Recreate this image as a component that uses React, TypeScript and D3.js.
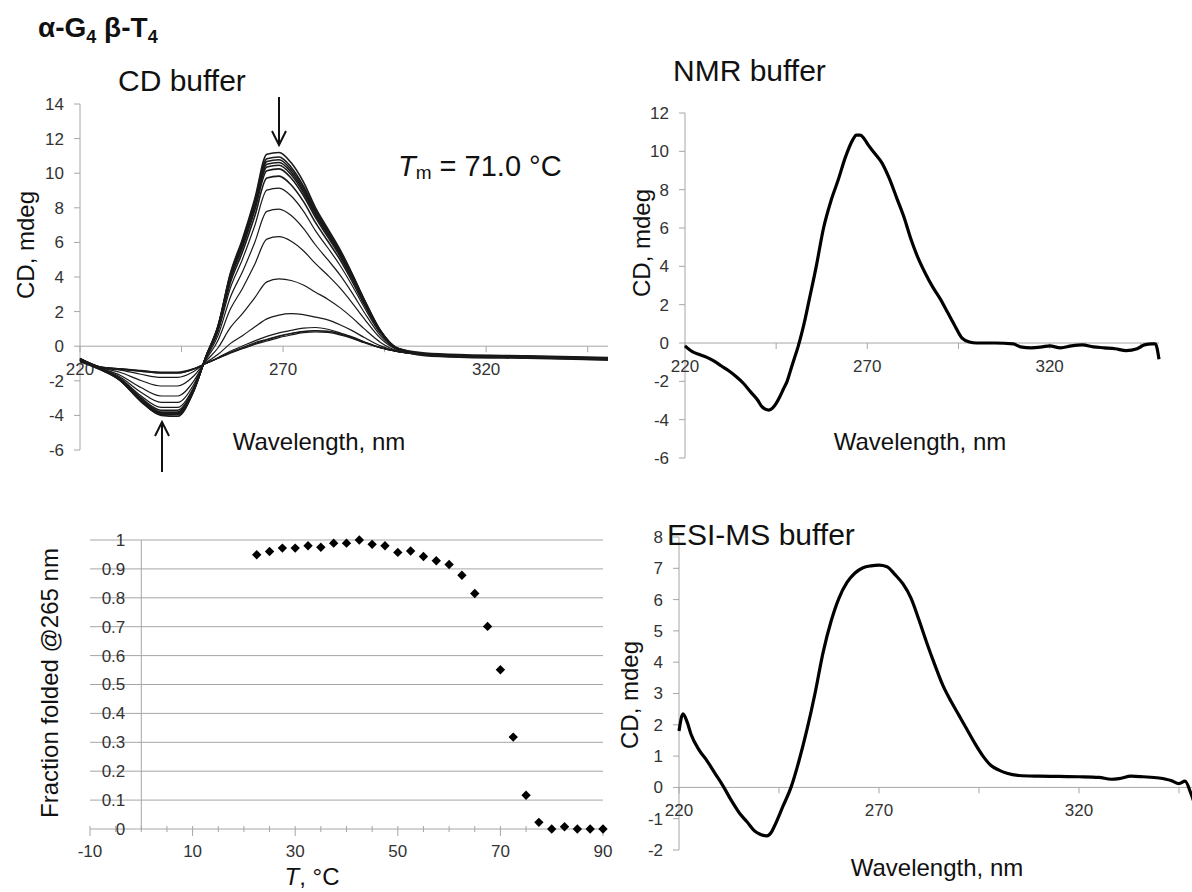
import React, { useEffect } from "react";
import * as d3 from "d3";

const FONT = "'Liberation Sans', Arial, sans-serif";
const AXIS = "#a6a6a6";
const INK = "#333";

// ---- CD buffer thermal melt: wavelength grid and one CD trace per temperature ----
const cdWavelengths = [220, 225, 230, 235, 240, 244, 248, 251, 254, 257, 260, 263, 266, 269, 272, 275, 278, 281, 284, 287, 290, 294, 298, 305, 315, 330, 350];
const cdCurves = [
  [-0.8, -1.3, -2.0, -3.2, -4.0, -4.05, -2.6, -0.6, 1.2, 4.2, 6.2, 8.5, 11.1, 11.2, 10.6, 9.5, 8.0, 6.8, 5.6, 4.2, 2.7, 0.9, -0.1, -0.45, -0.55, -0.6, -0.7],
  [-0.8, -1.3, -2.0, -3.17, -3.96, -3.96, -2.58, -0.61, 1.17, 4.13, 6.1, 8.37, 10.84, 10.94, 10.35, 9.27, 7.89, 6.71, 5.53, 4.14, 2.66, 0.89, -0.1, -0.5, -0.6, -0.62, -0.75],
  [-0.85, -1.35, -1.98, -3.15, -3.93, -3.93, -2.56, -0.61, 1.14, 4.06, 6.01, 8.25, 10.68, 10.78, 10.2, 9.14, 7.78, 6.62, 5.45, 4.09, 2.63, 0.87, -0.11, -0.4, -0.5, -0.55, -0.65],
  [-0.75, -1.25, -1.97, -3.12, -3.89, -3.89, -2.54, -0.62, 1.11, 3.99, 5.91, 8.12, 10.52, 10.62, 10.06, 9.01, 7.68, 6.53, 5.38, 4.03, 2.59, 0.86, -0.11, -0.5, -0.6, -0.65, -0.8],
  [-0.8, -1.3, -1.96, -3.09, -3.85, -3.85, -2.52, -0.62, 1.09, 3.92, 5.82, 8.0, 10.36, 10.46, 9.91, 8.88, 7.57, 6.44, 5.3, 3.98, 2.55, 0.84, -0.11, -0.45, -0.6, -0.6, -0.7],
  [-0.9, -1.35, -1.94, -3.06, -3.8, -3.8, -2.5, -0.63, 1.05, 3.83, 5.69, 7.83, 10.14, 10.25, 9.71, 8.71, 7.43, 6.32, 5.2, 3.9, 2.5, 0.82, -0.12, -0.55, -0.65, -0.7, -0.8],
  [-0.79, -1.29, -1.92, -2.98, -3.7, -3.7, -2.44, -0.65, 0.97, 3.65, 5.44, 7.49, 9.72, 9.83, 9.32, 8.37, 7.14, 6.08, 5.01, 3.75, 2.4, 0.78, -0.12, -0.45, -0.55, -0.6, -0.7],
  [-0.78, -1.28, -1.87, -2.87, -3.54, -3.54, -2.36, -0.67, 0.85, 3.35, 5.03, 6.95, 9.02, 9.14, 8.68, 7.81, 6.67, 5.69, 4.68, 3.51, 2.24, 0.72, -0.14, -0.5, -0.6, -0.65, -0.75],
  [-0.77, -1.27, -1.79, -2.66, -3.25, -3.25, -2.21, -0.72, 0.63, 2.82, 4.3, 5.98, 7.79, 7.92, 7.55, 6.81, 5.85, 5.0, 4.12, 3.08, 1.95, 0.6, -0.16, -0.45, -0.55, -0.6, -0.7],
  [-0.76, -1.26, -1.69, -2.39, -2.88, -2.88, -2.02, -0.78, 0.35, 2.13, 3.34, 4.72, 6.19, 6.33, 6.07, 5.52, 4.77, 4.1, 3.37, 2.51, 1.58, 0.45, -0.19, -0.5, -0.6, -0.65, -0.75],
  [-0.73, -1.23, -1.52, -1.98, -2.3, -2.3, -1.72, -0.87, -0.09, 1.07, 1.88, 2.79, 3.72, 3.89, 3.8, 3.54, 3.12, 2.72, 2.23, 1.65, 1.0, 0.22, -0.24, -0.45, -0.55, -0.6, -0.7],
  [-0.71, -1.21, -1.38, -1.62, -1.8, -1.8, -1.46, -0.95, -0.47, 0.15, 0.61, 1.11, 1.58, 1.8, 1.88, 1.83, 1.68, 1.52, 1.24, 0.9, 0.5, 0.02, -0.28, -0.5, -0.6, -0.65, -0.75],
  [-0.7, -1.2, -1.32, -1.45, -1.56, -1.56, -1.33, -0.99, -0.65, -0.29, 0.01, 0.31, 0.57, 0.77, 0.92, 1.05, 1.08, 0.98, 0.77, 0.54, 0.26, -0.08, -0.3, -0.45, -0.55, -0.6, -0.7],
  [-0.75, -1.25, -1.35, -1.45, -1.55, -1.55, -1.32, -1.0, -0.68, -0.35, -0.08, 0.2, 0.4, 0.6, 0.75, 0.86, 0.9, 0.88, 0.72, 0.5, 0.23, -0.08, -0.3, -0.45, -0.55, -0.6, -0.7],
  [-0.72, -1.22, -1.31, -1.42, -1.52, -1.52, -1.31, -1.0, -0.7, -0.38, -0.12, 0.15, 0.36, 0.56, 0.72, 0.84, 0.88, 0.85, 0.7, 0.48, 0.22, -0.09, -0.3, -0.5, -0.6, -0.65, -0.75],
  [-0.7, -1.2, -1.3, -1.4, -1.5, -1.5, -1.3, -1.0, -0.7, -0.4, -0.15, 0.1, 0.3, 0.5, 0.65, 0.78, 0.82, 0.8, 0.65, 0.45, 0.2, -0.1, -0.3, -0.5, -0.6, -0.65, -0.75],
];

// ---- NMR buffer spectrum ----
const nmrWavelengths = [220, 222, 224, 226, 228, 230, 232, 234, 236, 238, 240, 241, 242, 243, 244, 245, 246, 247, 248, 249, 250, 251, 252, 253, 254, 256, 258, 260, 262, 264, 266, 267, 268, 269, 270, 272, 274, 276, 278, 280, 282, 284, 286, 288, 290, 292, 294, 296, 298, 300, 305, 310, 312, 315, 318, 320, 323, 326, 329, 332, 335, 338, 341, 344, 346, 348, 349, 350];
const nmrCD = [-0.15, -0.45, -0.6, -0.75, -0.95, -1.2, -1.45, -1.75, -2.1, -2.55, -3.0, -3.3, -3.45, -3.5, -3.4, -3.15, -2.8, -2.4, -2.0, -1.4, -0.8, -0.2, 0.5, 1.3, 2.2, 4.0, 6.0, 7.4, 8.5, 9.7, 10.6, 10.85, 10.85, 10.7, 10.4, 9.9, 9.4, 8.6, 7.6, 6.6, 5.4, 4.4, 3.6, 2.9, 2.3, 1.6, 0.9, 0.25, 0.05, 0.0, 0.0, -0.05, -0.2, -0.25, -0.2, -0.15, -0.25, -0.15, -0.1, -0.2, -0.25, -0.3, -0.4, -0.3, -0.1, -0.05, -0.05, -0.85];

// ---- ESI-MS buffer spectrum ----
const esiWavelengths = [220, 221, 222, 223, 225, 227, 229, 231, 233, 235, 237, 239, 240, 242, 243, 244, 246, 248, 250, 252, 254, 256, 258, 260, 262, 264, 266, 268, 270, 272, 274, 276, 278, 280, 282, 284, 286, 288, 290, 292, 294, 296, 298, 300, 302, 305, 310, 315, 320, 325, 328, 330, 333, 336, 340, 343, 345, 346.5, 348, 350];
const esiCD = [1.8, 2.35, 2.1, 1.7, 1.2, 0.85, 0.45, 0.05, -0.4, -0.8, -1.1, -1.4, -1.48, -1.55, -1.45, -1.2, -0.6, 0.0, 0.85, 1.85, 3.0, 4.3, 5.3, 6.05, 6.55, 6.85, 7.02, 7.08, 7.1, 7.05, 6.8, 6.5, 6.05, 5.35, 4.6, 3.9, 3.25, 2.75, 2.3, 1.85, 1.4, 1.0, 0.7, 0.55, 0.45, 0.38, 0.36, 0.35, 0.34, 0.32, 0.26, 0.28, 0.36, 0.34, 0.3, 0.22, 0.12, 0.2, -0.2, -1.0];

// ---- Fraction folded at 265 nm vs temperature ----
const meltTemps = [22.5, 25, 27.5, 30, 32.5, 35, 37.5, 40, 42.5, 45, 47.5, 50, 52.5, 55, 57.5, 60, 62.5, 65, 67.5, 70, 72.5, 75, 77.5, 80, 82.5, 85, 87.5, 90];
const fractionFolded = [0.949, 0.96, 0.972, 0.972, 0.98, 0.975, 0.989, 0.989, 1.0, 0.985, 0.98, 0.957, 0.962, 0.943, 0.928, 0.915, 0.878, 0.815, 0.701, 0.551, 0.318, 0.117, 0.023, 0.0, 0.008, 0.0, 0.0, 0.0];

const wlTicks = [220, 245, 270, 295, 320, 345];
const wlLabels = [220, 270, 320];
const tempLabels = [-10, 10, 30, 50, 70, 90];
const fracTicks = d3.range(0, 11).map((i) => i / 10);

type Scale = d3.ScaleLinear<number, number>;

function SpectrumAxes({ x, y, yTicks }: { x: Scale; y: Scale; yTicks: number[] }) {
  const [x0, x1] = x.range();
  const [yb, yt] = y.range();
  const y0 = y(0);
  return (
    <g fontFamily={FONT} fontSize={17} fill={INK}>
      <line x1={x0} x2={x0} y1={yt} y2={yb} stroke={AXIS} />
      {yTicks.map((t) => (
        <g key={t}>
          <line x1={x0 - 6} x2={x0} y1={y(t)} y2={y(t)} stroke={AXIS} />
          <text x={x0 - 16} y={y(t)} dy="0.35em" textAnchor="end">{t}</text>
        </g>
      ))}
      <line x1={x0} x2={x1} y1={y0} y2={y0} stroke={AXIS} />
      {wlTicks.map((t) => (
        <line key={t} x1={x(t)} x2={x(t)} y1={y0} y2={y0 + 6} stroke={AXIS} />
      ))}
      {wlLabels.map((t) => (
        <text key={t} x={x(t)} y={y0 + 29} textAnchor="middle">{t}</text>
      ))}
    </g>
  );
}

function Arrow({ x, from, to }: { x: number; from: number; to: number }) {
  const dir = to > from ? 1 : -1;
  return (
    <g stroke="#111" strokeWidth={2} fill="none">
      <line x1={x} x2={x} y1={from} y2={to} />
      <polyline points={`${x - 7},${to - dir * 14} ${x},${to} ${x + 7},${to - dir * 14}`} />
    </g>
  );
}

function YTitle({ x, y, text }: { x: number; y: number; text: string }) {
  return (
    <text transform={`translate(${x},${y}) rotate(-90)`} textAnchor="middle" dy="0.35em" fontFamily={FONT} fontSize={24} fill="#111">
      {text}
    </text>
  );
}

export default function App() {
  useEffect(() => {
    document.body.style.margin = "0";
  }, []);

  // CD buffer panel
  const xCD = d3.scaleLinear().domain([220, 350]).range([80, 608]);
  const yCD = d3.scaleLinear().domain([-6, 14]).range([450, 104]);
  const lineCD = d3.line<number>().x((_, i) => xCD(cdWavelengths[i])).y((d) => yCD(d)).curve(d3.curveMonotoneX);

  // NMR buffer panel
  const xNMR = d3.scaleLinear().domain([220, 350]).range([685, 1159]);
  const yNMR = d3.scaleLinear().domain([-6, 12]).range([458, 113]);
  const lineNMR = d3.line<number>().x((_, i) => xNMR(nmrWavelengths[i])).y((d) => yNMR(d)).curve(d3.curveMonotoneX);

  // ESI-MS buffer panel
  const xESI = d3.scaleLinear().domain([220, 350]).range([679, 1199]);
  const yESI = d3.scaleLinear().domain([-2, 8]).range([850, 537]);
  const lineESI = d3.line<number>().x((_, i) => xESI(esiWavelengths[i])).y((d) => yESI(d)).curve(d3.curveMonotoneX);

  // Melting curve panel
  const xT = d3.scaleLinear().domain([-10, 90]).range([90, 603]);
  const yF = d3.scaleLinear().domain([0, 1]).range([829, 540]);
  const diamond = d3.symbol().type(d3.symbolSquare).size(44)();

  return (
    <svg width={1192} height={892} style={{ display: "block", background: "#fff" }}>
      {/* title */}
      <text x={38} y={37} fontFamily={FONT} fontWeight="bold" fontSize={28} fill="#111">
        <tspan>α-G</tspan>
        <tspan fontSize={18} dy={6}>4</tspan>
        <tspan dy={-6}> β-T</tspan>
        <tspan fontSize={18} dy={6}>4</tspan>
      </text>

      {/* ---- CD buffer ---- */}
      <SpectrumAxes x={xCD} y={yCD} yTicks={d3.range(-6, 15, 2)} />
      <g fill="none" stroke="#1a1a1a">
        {cdCurves.map((c, i) => (
          <path key={i} d={lineCD(c) ?? ""} strokeWidth={i < 7 ? 1.6 : 1.2} />
        ))}
      </g>
      <text x={118} y={91} fontFamily={FONT} fontSize={30} fill="#111">CD buffer</text>
      <text x={398} y={176} fontFamily={FONT} fontSize={29} fill="#111">
        <tspan fontStyle="italic">T</tspan>
        <tspan fontSize={19} dy={3}>m</tspan>
        <tspan dy={-3}> = 71.0 °C</tspan>
      </text>
      <YTitle x={26} y={245} text="CD, mdeg" />
      <text x={319} y={450} textAnchor="middle" fontFamily={FONT} fontSize={24} fill="#111">Wavelength, nm</text>
      <Arrow x={279} from={97} to={145} />
      <Arrow x={162} from={472} to={422} />

      {/* ---- NMR buffer ---- */}
      <SpectrumAxes x={xNMR} y={yNMR} yTicks={d3.range(-6, 13, 2)} />
      <path d={lineNMR(nmrCD) ?? ""} fill="none" stroke="#000" strokeWidth={3.2} strokeLinejoin="round" />
      <text x={673} y={81} fontFamily={FONT} fontSize={30} fill="#111">NMR buffer</text>
      <YTitle x={642} y={243} text="CD, mdeg" />
      <text x={920} y={450} textAnchor="middle" fontFamily={FONT} fontSize={24} fill="#111">Wavelength, nm</text>

      {/* ---- Fraction folded ---- */}
      <g fontFamily={FONT} fontSize={17} fill={INK}>
        {fracTicks.map((t) => (
          <g key={t}>
            <line x1={xT(-10)} x2={xT(90)} y1={yF(t)} y2={yF(t)} stroke={AXIS} />
            <text x={xT(0) - 16} y={yF(t)} dy="0.35em" textAnchor="end">{+t.toFixed(1)}</text>
          </g>
        ))}
        <line x1={xT(0)} x2={xT(0)} y1={yF(1)} y2={yF(0)} stroke={AXIS} />
        {d3.range(-10, 91, 5).map((t) => (
          <line key={t} x1={xT(t)} x2={xT(t)} y1={yF(0) - 3} y2={yF(0) + ((t + 10) % 20 === 0 ? 7 : 3)} stroke={AXIS} />
        ))}
        {tempLabels.map((t) => (
          <text key={t} x={xT(t)} y={yF(0) + 28} textAnchor="middle">{t}</text>
        ))}
      </g>
      <g fill="#000">
        {meltTemps.map((t, i) => (
          <path key={t} d={diamond ?? ""} transform={`translate(${xT(t)},${yF(fractionFolded[i])}) rotate(45)`} />
        ))}
      </g>
      <YTitle x={50} y={683} text="Fraction folded @265 nm" />
      <text x={312} y={885} textAnchor="middle" fontFamily={FONT} fontSize={24} fill="#111">
        <tspan fontStyle="italic">T</tspan>
        <tspan>, °C</tspan>
      </text>

      {/* ---- ESI-MS buffer ---- */}
      <SpectrumAxes x={xESI} y={yESI} yTicks={d3.range(-2, 9, 1)} />
      <path d={lineESI(esiCD) ?? ""} fill="none" stroke="#000" strokeWidth={3.2} strokeLinejoin="round" />
      <text x={667} y={545} fontFamily={FONT} fontSize={30} fill="#111">ESI-MS buffer</text>
      <YTitle x={630} y={695} text="CD, mdeg" />
      <text x={937} y={876} textAnchor="middle" fontFamily={FONT} fontSize={24} fill="#111">Wavelength, nm</text>
    </svg>
  );
}
